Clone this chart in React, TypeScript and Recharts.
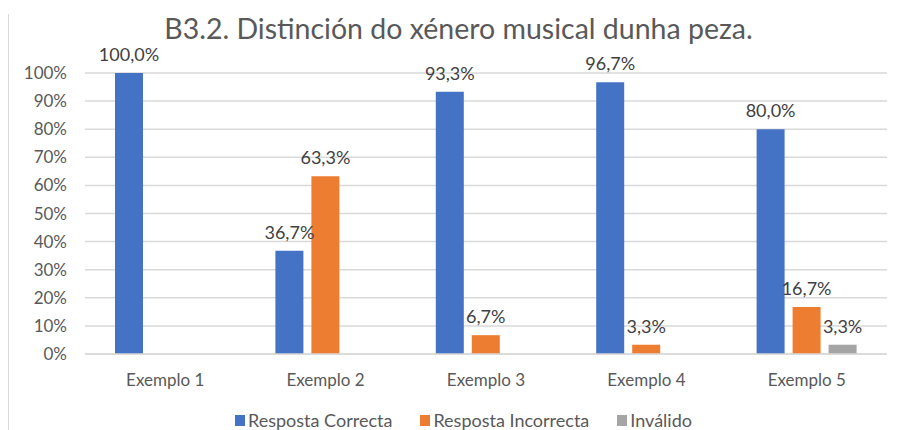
import { BarChart, Bar, XAxis, YAxis, CartesianGrid, Legend, LabelList } from 'recharts';

const categories = ['Exemplo 1', 'Exemplo 2', 'Exemplo 3', 'Exemplo 4', 'Exemplo 5'];
const correcta = [100, 36.7, 93.3, 96.7, 80];
const incorrecta = [null, 63.3, 6.7, 3.3, 16.7];
const invalido = [null, null, null, null, 3.3];
const yTicks = [0, 10, 20, 30, 40, 50, 60, 70, 80, 90, 100];

const data = categories.map((name, i) => ({
  name,
  correcta: correcta[i],
  incorrecta: incorrecta[i],
  invalido: invalido[i],
}));

const FONT = 'Lato, "Open Sans", sans-serif';

const fmt = (v: any) => (v == null ? '' : Number(v).toFixed(1).replace('.', ',') + '%');

const renderLegend = (props: any) => {
  const { payload = [] } = props;
  return (
    <div style={{ display: 'flex', justifyContent: 'center', alignItems: 'center', gap: 28, marginLeft: 30 }}>
      {payload.map((entry: any) => (
        <div key={entry.value} style={{ display: 'flex', alignItems: 'center' }}>
          <span style={{ display: 'inline-block', width: 10, height: 11, background: entry.color, marginRight: 3 }} />
          <span style={{ color: '#595959', fontSize: 18, lineHeight: '22px' }}>{entry.value}</span>
        </div>
      ))}
    </div>
  );
};

function App() {
  return (
    <div style={{ position: 'absolute', left: 0, top: 0, width: 897, height: 430, background: '#fff', fontFamily: FONT }}>
      <div style={{ position: 'absolute', left: 8, top: 14, bottom: 0, borderLeft: '1px solid #d9d9d9' }} />
      <div
        style={{
          position: 'absolute',
          top: 11,
          left: 0,
          width: 917,
          textAlign: 'center',
          fontSize: 28.5,
          color: '#595959',
        }}
      >
        B3.2. Distinción do xénero musical dunha peza.
      </div>
      <BarChart
        width={897}
        height={430}
        data={data}
        margin={{ top: 73, right: 10, left: 25, bottom: 24 }}
        barGap={8}
        barSize={28}
      >
        <CartesianGrid vertical={false} stroke="#d9d9d9" strokeWidth={1.5} />
        <XAxis
          dataKey="name"
          axisLine={{ stroke: '#d9d9d9', strokeWidth: 1.5 }}
          tickLine={false}
          tickSize={0}
          tickMargin={20}
          height={30}
          tick={{ fill: '#595959', fontSize: 17, fontFamily: FONT }}
        />
        <YAxis
          width={60}
          domain={[0, 100]}
          ticks={yTicks}
          tickFormatter={(v) => `${v}%`}
          axisLine={false}
          tickLine={false}
          tickSize={0}
          tickMargin={18}
          tick={{ fill: '#595959', fontSize: 17, fontFamily: FONT }}
        />
        <Legend
          verticalAlign="bottom"
          itemSorter={null as any}
          content={renderLegend}
          wrapperStyle={{ fontFamily: FONT, top: 409, left: 0, width: 897 }}
        />
        <Bar dataKey="correcta" name="Resposta Correcta" fill="#4472C4" isAnimationActive={false}>
          <LabelList dataKey="correcta" position="top" offset={12} formatter={fmt} fill="#404040" fontSize={18} fontFamily={FONT} />
        </Bar>
        <Bar dataKey="incorrecta" name="Resposta Incorrecta" fill="#ED7D31" isAnimationActive={false}>
          <LabelList dataKey="incorrecta" position="top" offset={12} formatter={fmt} fill="#404040" fontSize={18} fontFamily={FONT} />
        </Bar>
        <Bar dataKey="invalido" name="Inválido" fill="#A5A5A5" isAnimationActive={false}>
          <LabelList dataKey="invalido" position="top" offset={12} formatter={fmt} fill="#404040" fontSize={18} fontFamily={FONT} />
        </Bar>
      </BarChart>
    </div>
  );
}

export default App;
